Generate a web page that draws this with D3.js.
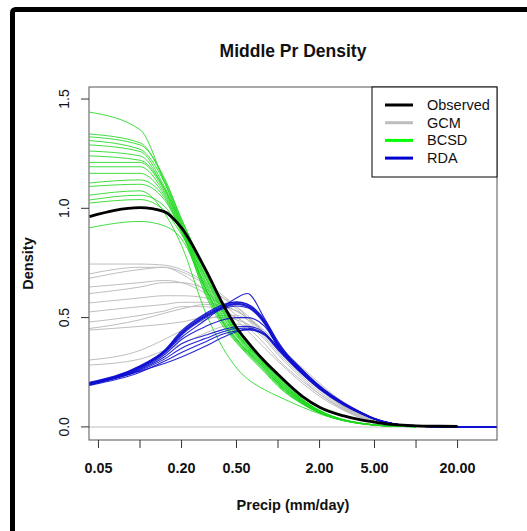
<!DOCTYPE html>
<html>
<head>
<meta charset="utf-8">
<script src="https://cdn.jsdelivr.net/npm/d3@7/dist/d3.min.js"></script>
<style>
  html, body { margin: 0; padding: 0; background: #fff; overflow: hidden; }
  svg { display: block; }
  text { font-family: "Liberation Sans", Arial, Helvetica, sans-serif; }
</style>
</head>
<body>
<svg id="chart" width="527" height="531"></svg>
<script>
// Precipitation values (mm/day) at which every density curve is evaluated
const precipGrid = [0.043, 0.1, 0.15, 0.2, 0.3, 0.4, 0.5, 0.6, 0.8, 1, 1.5, 2, 3, 4, 5, 7, 10, 15, 20, 40];

// Observed density
const observed = [0.962, 1.003, 0.985, 0.91, 0.717, 0.56, 0.455, 0.39, 0.30, 0.24, 0.14, 0.09, 0.05, 0.032, 0.022, 0.010, 0.005, 0.003, 0.002, null];

// Raw GCM ensemble densities
const gcm = [
  [0.745, 0.745, 0.74, 0.72, 0.66, 0.60, 0.55, 0.50, 0.42, 0.35, 0.24, 0.17, 0.09, 0.05, 0.028, 0.008, 0.002, 0.0005, null, null],
  [0.68, 0.72, 0.73, 0.71, 0.65, 0.59, 0.54, 0.49, 0.41, 0.34, 0.23, 0.16, 0.085, 0.045, 0.025, 0.007, 0.002, 0.0005, null, null],
  [0.61, 0.64, 0.66, 0.66, 0.63, 0.59, 0.55, 0.51, 0.43, 0.36, 0.25, 0.18, 0.095, 0.05, 0.028, 0.008, 0.002, 0.0005, null, null],
  [0.567, 0.59, 0.60, 0.60, 0.59, 0.56, 0.53, 0.50, 0.43, 0.37, 0.26, 0.19, 0.10, 0.055, 0.03, 0.009, 0.002, 0.0005, null, null],
  [0.526, 0.55, 0.56, 0.57, 0.57, 0.55, 0.53, 0.50, 0.44, 0.38, 0.26, 0.19, 0.10, 0.055, 0.03, 0.009, 0.002, 0.0005, null, null],
  [0.45, 0.49, 0.52, 0.54, 0.56, 0.55, 0.53, 0.50, 0.43, 0.36, 0.25, 0.18, 0.095, 0.05, 0.027, 0.008, 0.002, 0.0005, null, null],
  [0.443, 0.46, 0.47, 0.48, 0.50, 0.50, 0.49, 0.47, 0.42, 0.36, 0.25, 0.18, 0.09, 0.05, 0.027, 0.008, 0.002, 0.0005, null, null],
  [0.306, 0.35, 0.40, 0.44, 0.49, 0.51, 0.51, 0.49, 0.43, 0.37, 0.26, 0.19, 0.10, 0.055, 0.03, 0.009, 0.002, 0.0005, null, null],
  [0.283, 0.31, 0.35, 0.38, 0.43, 0.46, 0.47, 0.46, 0.42, 0.37, 0.27, 0.20, 0.11, 0.06, 0.033, 0.01, 0.002, 0.0005, null, null],
  [0.70, 0.73, 0.73, 0.70, 0.62, 0.55, 0.49, 0.44, 0.36, 0.30, 0.20, 0.14, 0.075, 0.04, 0.022, 0.006, 0.002, 0.0005, null, null],
  [0.64, 0.66, 0.67, 0.66, 0.61, 0.56, 0.51, 0.46, 0.38, 0.31, 0.21, 0.15, 0.08, 0.042, 0.024, 0.007, 0.002, 0.0005, null, null],
  [0.48, 0.51, 0.53, 0.55, 0.55, 0.53, 0.50, 0.47, 0.40, 0.33, 0.22, 0.15, 0.08, 0.043, 0.024, 0.007, 0.002, 0.0005, null, null]
];

// Bias-corrected spatially disaggregated (BCSD) densities
const bcsd = [
  [1.44, 1.36, 1.12, 0.93, 0.655, 0.505, 0.42, 0.36, 0.275, 0.21, 0.115, 0.07, 0.03, 0.016, 0.009, 0.003, 0.001, null, null, null],
  [1.34, 1.30, 1.13, 0.95, 0.70, 0.54, 0.44, 0.38, 0.29, 0.23, 0.125, 0.074, 0.032, 0.017, 0.009, 0.003, 0.001, null, null, null],
  [1.327, 1.29, 1.14, 0.95, 0.715, 0.555, 0.45, 0.385, 0.295, 0.235, 0.128, 0.076, 0.033, 0.017, 0.009, 0.003, 0.001, null, null, null],
  [1.31, 1.27, 1.12, 0.94, 0.68, 0.525, 0.43, 0.37, 0.285, 0.22, 0.12, 0.072, 0.031, 0.016, 0.009, 0.003, 0.001, null, null, null],
  [1.29, 1.26, 1.10, 0.93, 0.635, 0.49, 0.405, 0.35, 0.27, 0.205, 0.112, 0.067, 0.03, 0.016, 0.008, 0.003, 0.001, null, null, null],
  [1.262, 1.24, 1.09, 0.92, 0.62, 0.475, 0.395, 0.34, 0.26, 0.195, 0.108, 0.065, 0.029, 0.015, 0.008, 0.003, 0.001, null, null, null],
  [1.24, 1.22, 1.09, 0.92, 0.665, 0.515, 0.425, 0.365, 0.28, 0.215, 0.118, 0.07, 0.031, 0.016, 0.009, 0.003, 0.001, null, null, null],
  [1.21, 1.21, 1.08, 0.91, 0.60, 0.46, 0.385, 0.33, 0.25, 0.185, 0.104, 0.063, 0.028, 0.015, 0.008, 0.003, 0.001, null, null, null],
  [1.19, 1.19, 1.07, 0.91, 0.69, 0.535, 0.435, 0.375, 0.29, 0.225, 0.122, 0.073, 0.032, 0.017, 0.009, 0.003, 0.001, null, null, null],
  [1.16, 1.16, 1.06, 0.90, 0.63, 0.48, 0.40, 0.345, 0.265, 0.20, 0.11, 0.066, 0.029, 0.015, 0.008, 0.003, 0.001, null, null, null],
  [1.116, 1.13, 1.05, 0.90, 0.705, 0.55, 0.445, 0.385, 0.295, 0.23, 0.125, 0.074, 0.032, 0.016, 0.009, 0.003, 0.001, null, null, null],
  [1.10, 1.11, 1.04, 0.89, 0.61, 0.47, 0.39, 0.335, 0.255, 0.19, 0.106, 0.064, 0.028, 0.014, 0.008, 0.003, 0.001, null, null, null],
  [1.038, 1.06, 1.01, 0.89, 0.645, 0.50, 0.415, 0.355, 0.275, 0.21, 0.115, 0.068, 0.03, 0.016, 0.008, 0.003, 0.001, null, null, null],
  [1.024, 1.04, 0.99, 0.88, 0.68, 0.525, 0.43, 0.37, 0.285, 0.22, 0.12, 0.071, 0.031, 0.016, 0.009, 0.003, 0.001, null, null, null],
  [0.911, 0.94, 0.92, 0.86, 0.63, 0.48, 0.40, 0.345, 0.265, 0.20, 0.11, 0.066, 0.029, 0.015, 0.008, 0.003, 0.001, null, null, null],
  [1.06, 1.08, 0.98, 0.83, 0.52, 0.36, 0.27, 0.22, 0.17, 0.14, 0.09, 0.06, 0.028, 0.015, 0.008, 0.003, 0.001, null, null, null]
];

// Downscaled densities from the RDA method
const rda = [
  [0.200, 0.275, 0.345, 0.43, 0.51, 0.55, 0.565, 0.555, 0.48, 0.375, 0.255, 0.182, 0.106, 0.065, 0.037, 0.013, 0.003, 0.001, 0, 0],
  [0.198, 0.273, 0.342, 0.425, 0.505, 0.545, 0.56, 0.55, 0.475, 0.37, 0.25, 0.18, 0.104, 0.064, 0.036, 0.013, 0.003, 0.001, 0, 0],
  [0.202, 0.277, 0.348, 0.435, 0.515, 0.555, 0.57, 0.56, 0.485, 0.38, 0.26, 0.186, 0.108, 0.066, 0.038, 0.013, 0.003, 0.001, 0, 0],
  [0.196, 0.27, 0.338, 0.42, 0.50, 0.54, 0.553, 0.545, 0.47, 0.366, 0.246, 0.177, 0.102, 0.063, 0.036, 0.013, 0.003, 0.001, 0, 0],
  [0.204, 0.28, 0.35, 0.44, 0.52, 0.56, 0.572, 0.562, 0.49, 0.385, 0.262, 0.188, 0.11, 0.067, 0.039, 0.014, 0.003, 0.001, 0, 0],
  [0.199, 0.274, 0.344, 0.428, 0.508, 0.548, 0.562, 0.552, 0.478, 0.373, 0.252, 0.181, 0.105, 0.065, 0.037, 0.013, 0.003, 0.001, 0, 0],
  [0.20, 0.27, 0.34, 0.41, 0.49, 0.55, 0.59, 0.61, 0.495, 0.39, 0.25, 0.18, 0.103, 0.062, 0.036, 0.013, 0.003, 0.001, 0, 0],
  [0.195, 0.262, 0.32, 0.38, 0.42, 0.445, 0.458, 0.46, 0.43, 0.362, 0.248, 0.178, 0.103, 0.062, 0.036, 0.013, 0.003, 0.001, 0, 0],
  [0.193, 0.258, 0.31, 0.36, 0.405, 0.435, 0.45, 0.452, 0.425, 0.357, 0.244, 0.175, 0.101, 0.06, 0.035, 0.012, 0.003, 0.001, 0, 0],
  [0.19, 0.25, 0.30, 0.34, 0.39, 0.425, 0.44, 0.445, 0.42, 0.352, 0.24, 0.172, 0.099, 0.06, 0.035, 0.012, 0.003, 0.001, 0, 0],
  [0.192, 0.255, 0.29, 0.32, 0.37, 0.41, 0.435, 0.445, 0.425, 0.362, 0.248, 0.178, 0.103, 0.062, 0.036, 0.013, 0.003, 0.001, 0, 0],
  [0.197, 0.265, 0.33, 0.40, 0.46, 0.49, 0.50, 0.50, 0.46, 0.372, 0.252, 0.181, 0.105, 0.063, 0.036, 0.013, 0.003, 0.001, 0, 0]
];

// Axis ticks and labels
const xTicks = [0.05, 0.1, 0.2, 0.5, 1, 2, 5, 10, 20];
const xTickLabels = ["0.05", "", "0.20", "0.50", "", "2.00", "5.00", "", "20.00"];
const yTicks = [0, 0.5, 1.0, 1.5];
const yTickLabels = ["0.0", "0.5", "1.0", "1.5"];
const xDomain = [0.0427, 38.6];
const yDomain = [-0.06, 1.555];

const legendNames = ["Observed", "GCM", "BCSD", "RDA"];
const legendColors = ["#000000", "#bebebe", "#00ff00", "#0000cc"];

const svg = d3.select("#chart");

// outer frame of the graphics window
svg.append("rect")
  .attr("x", 12.5).attr("y", 9.5)
  .attr("width", 540).attr("height", 540)
  .attr("rx", 3)
  .attr("fill", "none")
  .attr("stroke", "#000")
  .attr("stroke-width", 5);

const plot = { left: 89, right: 497, top: 87, bottom: 440 };

const x = d3.scaleLog().domain(xDomain).range([plot.left, plot.right]);
const y = d3.scaleLinear().domain(yDomain).range([plot.bottom, plot.top]);

svg.append("clipPath").attr("id", "plotClip")
  .append("rect")
  .attr("x", plot.left).attr("y", plot.top)
  .attr("width", plot.right - plot.left).attr("height", plot.bottom - plot.top);

const g = svg.append("g").attr("clip-path", "url(#plotClip)");

// zero line
g.append("line")
  .attr("x1", plot.left).attr("x2", plot.right)
  .attr("y1", y(0)).attr("y2", y(0))
  .attr("stroke", "#d3d3d3").attr("stroke-width", 1.5);

const line = d3.line()
  .defined(d => d != null)
  .x((d, i) => x(precipGrid[i]))
  .y(d => y(d))
  .curve(d3.curveMonotoneX);

function drawSet(set, color, width, opacity) {
  g.append("g")
    .selectAll("path")
    .data(set)
    .join("path")
    .attr("d", line)
    .attr("fill", "none")
    .attr("stroke", color)
    .attr("stroke-width", width)
    .attr("stroke-opacity", opacity)
    .attr("stroke-linejoin", "round");
}

drawSet(gcm, "#bebebe", 1, 1);
drawSet(bcsd, "#1ed81e", 1, 0.85);
drawSet(rda, "#1010d0", 1.1, 0.9);
drawSet([observed], "#000000", 2.8, 1);

// plot frame
svg.append("rect")
  .attr("x", plot.left).attr("y", plot.top)
  .attr("width", plot.right - plot.left).attr("height", plot.bottom - plot.top)
  .attr("fill", "none").attr("stroke", "#555").attr("stroke-width", 1);

// x axis
const xAxis = svg.append("g");
xTicks.forEach((t, i) => {
  xAxis.append("line")
    .attr("x1", x(t)).attr("x2", x(t))
    .attr("y1", plot.bottom).attr("y2", plot.bottom + 8)
    .attr("stroke", "#333").attr("stroke-width", 1);
  if (xTickLabels[i]) {
    xAxis.append("text")
      .attr("x", x(t)).attr("y", 473)
      .attr("text-anchor", "middle")
      .attr("font-size", 14.4).attr("font-weight", "bold")
      .attr("fill", "#111")
      .text(xTickLabels[i]);
  }
});

// y axis
const yAxis = svg.append("g");
yTicks.forEach((t, i) => {
  yAxis.append("line")
    .attr("x1", plot.left - 8).attr("x2", plot.left)
    .attr("y1", y(t)).attr("y2", y(t))
    .attr("stroke", "#333").attr("stroke-width", 1);
  yAxis.append("text")
    .attr("transform", `translate(69,${y(t)}) rotate(-90)`)
    .attr("text-anchor", "middle")
    .attr("font-size", 14)
    .attr("fill", "#111")
    .text(yTickLabels[i]);
});

// titles
svg.append("text")
  .attr("x", (plot.left + plot.right) / 2).attr("y", 57)
  .attr("text-anchor", "middle")
  .attr("font-size", 17.5).attr("font-weight", "bold")
  .attr("fill", "#111")
  .text("Middle Pr Density");

svg.append("text")
  .attr("x", (plot.left + plot.right) / 2).attr("y", 510)
  .attr("text-anchor", "middle")
  .attr("font-size", 14.5).attr("font-weight", "bold")
  .attr("fill", "#111")
  .text("Precip (mm/day)");

svg.append("text")
  .attr("transform", `translate(33,${(plot.top + plot.bottom) / 2}) rotate(-90)`)
  .attr("text-anchor", "middle")
  .attr("font-size", 14.5).attr("font-weight", "bold")
  .attr("fill", "#111")
  .text("Density");

// legend
const legend = svg.append("g");
legend.append("rect")
  .attr("x", 372).attr("y", plot.top)
  .attr("width", plot.right - 372).attr("height", 90)
  .attr("fill", "#fff").attr("stroke", "#000").attr("stroke-width", 1);

legendNames.forEach((name, i) => {
  const ly = 105 + i * 17.7;
  legend.append("line")
    .attr("x1", 385).attr("x2", 413)
    .attr("y1", ly).attr("y2", ly)
    .attr("stroke", legendColors[i]).attr("stroke-width", 3);
  legend.append("text")
    .attr("x", 427).attr("y", ly + 5)
    .attr("font-size", 14.5)
    .attr("fill", "#111")
    .text(name);
});
</script>
</body>
</html>
